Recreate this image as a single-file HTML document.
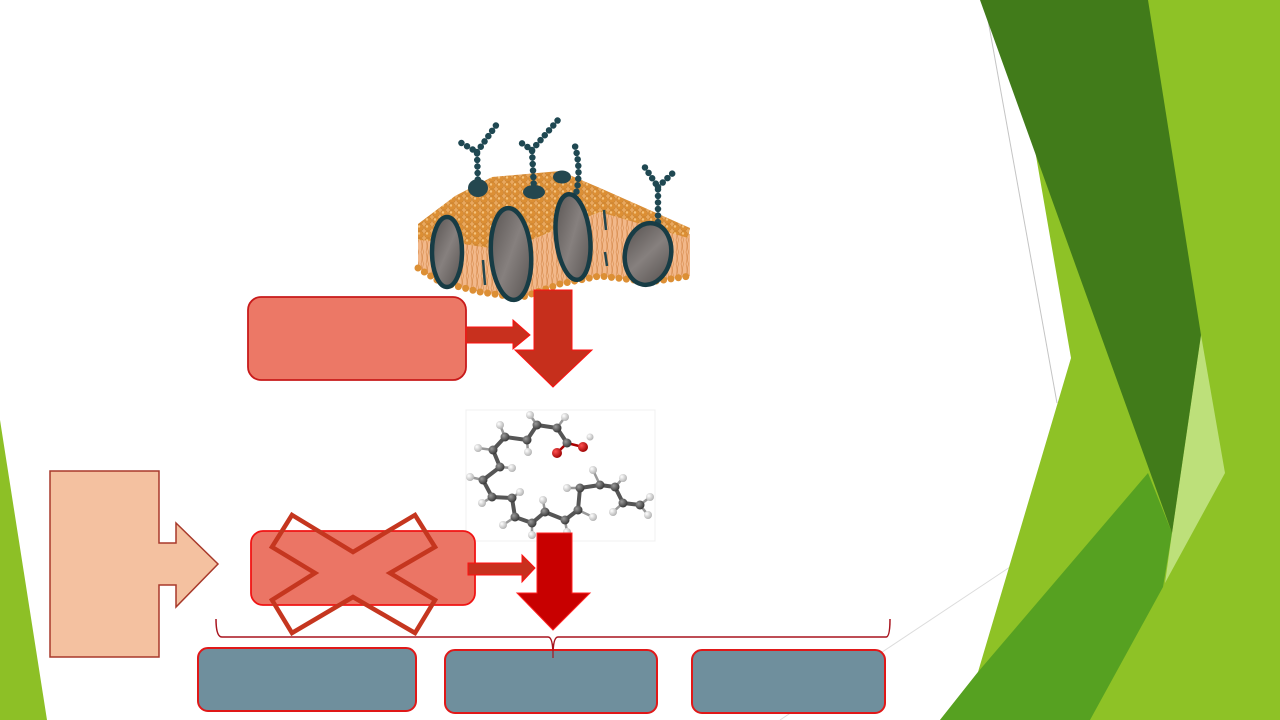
<!DOCTYPE html>
<html><head><meta charset="utf-8"><style>
html,body{margin:0;padding:0;background:#fff;}
body{width:1280px;height:720px;overflow:hidden;font-family:"Liberation Sans",sans-serif;}
svg{display:block;}
</style></head><body>
<svg width="1280" height="720" viewBox="0 0 1280 720" xmlns="http://www.w3.org/2000/svg">
<defs>
<pattern id="beads" width="8" height="7" patternUnits="userSpaceOnUse">
<rect width="8" height="7" fill="#e9a85e"/>
<circle cx="4" cy="3.5" r="3.5" fill="#dc8f35" stroke="#c27a28" stroke-width="0.5"/>
<circle cx="3" cy="2.5" r="1.2" fill="#f5c27c"/>
</pattern>
<pattern id="tails" width="5" height="12" patternUnits="userSpaceOnUse">
<rect width="5" height="12" fill="#f2b88a"/>
<path d="M1,0 Q3,6 1,12 M3.5,0 Q1.5,6 3.5,12" stroke="#d88c4e" stroke-width="0.6" fill="none"/>
</pattern>
<linearGradient id="prot" x1="0" y1="0" x2="1" y2="1">
<stop offset="0" stop-color="#55504e"/>
<stop offset="0.5" stop-color="#86807e"/>
<stop offset="1" stop-color="#55504e"/>
</linearGradient>
<radialGradient id="cg" cx="0.35" cy="0.35" r="0.7">
<stop offset="0" stop-color="#9a9a9a"/><stop offset="1" stop-color="#333"/>
</radialGradient>
<radialGradient id="hg" cx="0.35" cy="0.35" r="0.7">
<stop offset="0" stop-color="#ffffff"/><stop offset="1" stop-color="#b0b0b0"/>
</radialGradient>
<radialGradient id="og" cx="0.35" cy="0.35" r="0.7">
<stop offset="0" stop-color="#ff5050"/><stop offset="1" stop-color="#9a0000"/>
</radialGradient>
</defs>

<!-- green background shapes -->
<polygon points="0,420 47,720 0,720" fill="#8dc026"/>
<line x1="988" y1="20" x2="1057" y2="403" stroke="#c4c4c4" stroke-width="1"/>
<line x1="1010" y1="567" x2="780" y2="720" stroke="#dcdcdc" stroke-width="1"/>
<polygon points="1035,150 1071,358 978,672 940,720 1280,720 1280,0 1148,0" fill="#8ec226"/>
<polygon points="1148,473 1172,533 1163,587 1090,720 940,720 978,672" fill="#56a121"/>
<polygon points="1201,335 1225,473 1165,583 1172,533" fill="#bde07a"/>
<polygon points="980,0 1148,0 1201,335 1172,533" fill="#417b1a"/>

<!-- membrane -->
<polygon points="418,238 450,240 490,248 520,245 555,230 600,212 690,234 690,276 650,282 600,276 560,284 520,298 480,292 440,282 418,268" fill="url(#tails)"/>
<path d="M418,268 L440,282 L480,292 L520,298 L560,284 L600,276 L650,282 L690,276" stroke="#dc8f35" stroke-width="7" stroke-dasharray="0 7.5" stroke-linecap="round" fill="none"/>
<polygon points="418,224 455,196 492,177 560,171 600,188 690,228 688,238 600,212 555,230 520,245 490,248 450,242 418,240" fill="url(#beads)"/>

<!-- bead chains -->
<g stroke="#1f4852" stroke-width="6.5" stroke-linecap="round" stroke-dasharray="0 6.5" fill="none">
<path d="M478,186 L477,152 L458,141"/>
<path d="M477,152 L497,124"/>
<path d="M534,190 L532,150 L520,142"/>
<path d="M532,150 L558,120"/>
<path d="M575,198 Q582,172 575,146"/>
<path d="M658,222 L658,187 L642,163"/>
<path d="M658,187 L676,170"/>
</g>
<ellipse cx="478" cy="188" rx="10" ry="9" fill="#24474f"/>
<ellipse cx="534" cy="192" rx="11" ry="7" fill="#24474f"/>
<ellipse cx="562" cy="177" rx="9" ry="6.5" fill="#24474f"/>
<path d="M604,210 l2,20 M605,252 l2,14 M483,260 l2,25" stroke="#24474f" stroke-width="2.5"/>

<!-- proteins -->
<g stroke="#173c45" stroke-width="4.5">
<ellipse cx="447" cy="252" rx="15" ry="35" fill="url(#prot)"/>
<ellipse cx="511" cy="254" rx="20" ry="46" fill="url(#prot)" transform="rotate(-4 511 254)"/>
<ellipse cx="573" cy="237" rx="17" ry="43" fill="url(#prot)" transform="rotate(-6 573 237)"/>
<ellipse cx="648" cy="254" rx="23" ry="31" fill="url(#prot)" transform="rotate(10 648 254)"/>
</g>

<!-- red box 1 and arrows -->
<rect x="248" y="297" width="218" height="83" rx="13" fill="#ec7866" stroke="#c81a1a" stroke-width="1.8"/>
<polygon points="466,327 513,327 513,320 530,335 513,349 513,343 466,343" fill="#c8301e" stroke="#ff1010" stroke-width="1"/>
<polygon points="534,290 572,290 572,350 592,350 553,387 515,350 534,350" fill="#c62f1c" stroke="#ff1010" stroke-width="1"/>

<!-- molecule -->
<rect x="466" y="410" width="189" height="131" fill="#fff" stroke="#f0f0f0" stroke-width="1"/>
<g stroke="#555" stroke-width="4" fill="none" stroke-linejoin="round">
<polyline points="567,443 557,428 537,425 527,440 505,437 493,450 500,467 483,480 492,497 512,498 515,517 532,523 545,512 565,520 578,510 580,488 600,485 615,487 623,503 640,505"/>
</g>
<g stroke="#999" stroke-width="2.5">
<line x1="567" y1="443" x2="557" y2="453" stroke="#a00"/>
<line x1="567" y1="443" x2="583" y2="447" stroke="#a00"/>
<line x1="537" y1="425" x2="530" y2="415"/><line x1="557" y1="428" x2="565" y2="417"/>
<line x1="505" y1="437" x2="500" y2="425"/><line x1="527" y1="440" x2="528" y2="452"/>
<line x1="493" y1="450" x2="478" y2="448"/><line x1="500" y1="467" x2="512" y2="468"/>
<line x1="483" y1="480" x2="470" y2="477"/><line x1="492" y1="497" x2="482" y2="503"/>
<line x1="512" y1="498" x2="520" y2="492"/><line x1="515" y1="517" x2="503" y2="525"/>
<line x1="532" y1="523" x2="532" y2="535"/><line x1="545" y1="512" x2="543" y2="500"/>
<line x1="565" y1="520" x2="567" y2="532"/><line x1="578" y1="510" x2="593" y2="517"/>
<line x1="580" y1="488" x2="567" y2="488"/><line x1="600" y1="485" x2="593" y2="470"/>
<line x1="615" y1="487" x2="623" y2="478"/><line x1="623" y1="503" x2="613" y2="512"/>
<line x1="640" y1="505" x2="650" y2="497"/><line x1="640" y1="505" x2="648" y2="515"/>
</g>
<g fill="url(#hg)">
<circle cx="530" cy="415" r="4"/><circle cx="565" cy="417" r="4"/><circle cx="500" cy="425" r="4"/>
<circle cx="528" cy="452" r="4"/><circle cx="478" cy="448" r="4"/><circle cx="512" cy="468" r="4"/>
<circle cx="470" cy="477" r="4"/><circle cx="482" cy="503" r="4"/><circle cx="520" cy="492" r="4"/>
<circle cx="503" cy="525" r="4"/><circle cx="532" cy="535" r="4"/><circle cx="543" cy="500" r="4"/>
<circle cx="567" cy="532" r="4"/><circle cx="593" cy="517" r="4"/><circle cx="567" cy="488" r="4"/>
<circle cx="593" cy="470" r="4"/><circle cx="623" cy="478" r="4"/><circle cx="613" cy="512" r="4"/>
<circle cx="650" cy="497" r="4"/><circle cx="648" cy="515" r="4"/><circle cx="590" cy="437" r="3.5"/>
</g>
<g fill="url(#cg)">
<circle cx="567" cy="443" r="4.5"/><circle cx="557" cy="428" r="4.5"/><circle cx="537" cy="425" r="4.5"/>
<circle cx="527" cy="440" r="4.5"/><circle cx="505" cy="437" r="4.5"/><circle cx="493" cy="450" r="4.5"/>
<circle cx="500" cy="467" r="4.5"/><circle cx="483" cy="480" r="4.5"/><circle cx="492" cy="497" r="4.5"/>
<circle cx="512" cy="498" r="4.5"/><circle cx="515" cy="517" r="4.5"/><circle cx="532" cy="523" r="4.5"/>
<circle cx="545" cy="512" r="4.5"/><circle cx="565" cy="520" r="4.5"/><circle cx="578" cy="510" r="4.5"/>
<circle cx="580" cy="488" r="4.5"/><circle cx="600" cy="485" r="4.5"/><circle cx="615" cy="487" r="4.5"/>
<circle cx="623" cy="503" r="4.5"/><circle cx="640" cy="505" r="4.5"/>
</g>
<g fill="url(#og)"><circle cx="557" cy="453" r="5"/><circle cx="583" cy="447" r="5"/></g>

<!-- peach notched arrow -->
<polygon points="50,471 159,471 159,543 176,543 176,523 218,564 176,607 176,585 159,585 159,657 50,657" fill="#f4c1a0" stroke="#a8392a" stroke-width="1.5"/>

<!-- red box 2 with X -->
<rect x="251" y="531" width="224" height="74" rx="12" fill="#eb7565" stroke="#f01414" stroke-width="1.8"/>
<polygon points="292,515 353,552 415,515 435,547 390,573 435,600 415,633 353,597 292,633 272,600 315,573 272,547" fill="none" stroke="#c5361f" stroke-width="4.5" stroke-linejoin="miter"/>
<polygon points="468,563 522,563 522,555 535,568 522,582 522,575 468,575" fill="#c8301e" stroke="#ff1010" stroke-width="1"/>
<polygon points="537,533 572,533 572,593 590,593 553,630 517,593 537,593" fill="#c80000" stroke="#ff2020" stroke-width="1"/>

<!-- bracket -->
<path d="M216,619 Q216,637 222,637 L548,637 Q553,637 553,656 Q553,637 558,637 L886,637 Q890,637 890,619" fill="none" stroke="#a8141e" stroke-width="1.5"/>

<!-- blue-gray boxes -->
<rect x="198" y="648" width="218" height="63" rx="10" fill="#6f8f9d" stroke="#e01818" stroke-width="2"/>
<rect x="445" y="650" width="212" height="63" rx="10" fill="#6f8f9d" stroke="#e01818" stroke-width="2"/>
<rect x="692" y="650" width="193" height="63" rx="10" fill="#6f8f9d" stroke="#e01818" stroke-width="2"/>
<path d="M553,648 L553,658" stroke="#a8141e" stroke-width="1.2"/>
</svg>
</body></html>
